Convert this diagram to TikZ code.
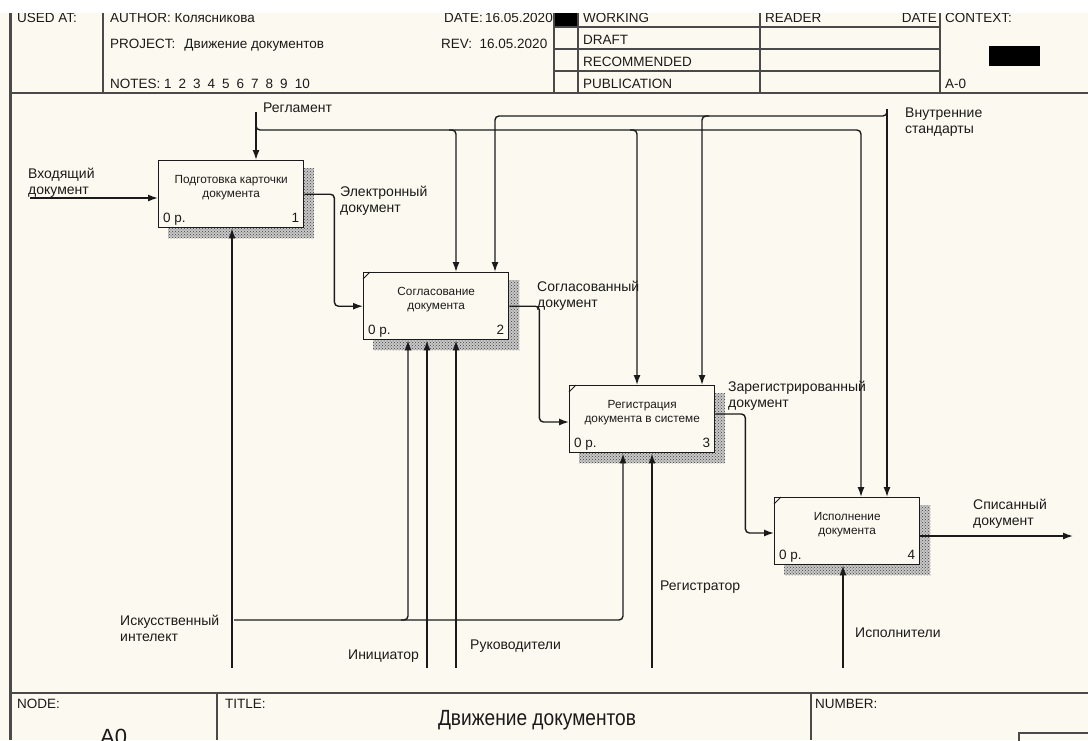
\documentclass[tikz,border=0pt]{standalone}
\usepackage{fontspec}
\setmainfont{Liberation Sans}
\newfontfamily\titlefont[FakeStretch=0.87]{Liberation Sans}
\usetikzlibrary{arrows.meta,patterns,calc,backgrounds}
\definecolor{bgc}{HTML}{FCFAF0}
\definecolor{ink}{HTML}{1A1A1A}
\definecolor{framec}{HTML}{4A4A4A}
\begin{document}
\begin{tikzpicture}[x=1pt,y=-1pt,
  lbl/.style={font=\fontsize{14}{16}\selectfont, text=ink, inner sep=0, align=left, anchor=north west},
  hdr/.style={font=\fontsize{13.5}{15}\selectfont, text=ink, inner sep=0, anchor=base west},
  proc/.style={draw=ink, line width=1.4pt, fill=bgc, minimum width=145pt, minimum height=67pt, anchor=north west, inner sep=0},
  boxtxt/.style={font=\fontsize{11.8}{14.5}\selectfont, text=ink, align=center, inner sep=0},
  cnr/.style={font=\fontsize{13.5}{15}\selectfont, text=ink, inner sep=0},
  arr/.style={draw=ink, line width=1.4pt, -{Latex[length=10pt,width=7pt]}},
  rc/.style={rounded corners=4pt},
  gridln/.style={draw=framec, line width=1.3pt},
  shdbase/.style={fill=black!22},
  shd/.style={pattern=crosshatch dots, pattern color=black!75}
]
\useasboundingbox (0,0) rectangle (1088,740);
\begin{scope}[on background layer]
  \fill[bgc] (0,0) rectangle (1088,740);
\end{scope}

% ---------------- header ----------------
\node[hdr] (usedat) at (17,22) {USED AT:};
\node[hdr] (author) at (110,22) {AUTHOR:\ Колясникова};
\node[hdr] (project) at (110,48) {PROJECT:\hspace{9pt}Движение документов};
\node[hdr] (notes) at (110,88) {NOTES:\ 1\hspace{7pt}2\hspace{7pt}3\hspace{7pt}4\hspace{7pt}5\hspace{7pt}6\hspace{7pt}7\hspace{7pt}8\hspace{7pt}9\hspace{7pt}10};
\begin{scope}
  \clip (430,12) rectangle (553,93);
  \node[hdr] (date) at (444,22) {DATE:\,16.05.2020};
  \node[hdr] (rev) at (441,48) {REV:\ \ 16.05.2020};
\end{scope}
\node[hdr] (working) at (583,22) {WORKING};
\node[hdr] (draft) at (583,44) {DRAFT};
\node[hdr] (recom) at (583,66) {RECOMMENDED};
\node[hdr] (publ) at (583,88) {PUBLICATION};
\node[hdr] (reader) at (765,22) {READER};
\node[hdr, anchor=base east] (rdate) at (937,22) {DATE};
\node[hdr] (context) at (945,22) {CONTEXT:};
\node[hdr] (azero) at (945,88) {A-0};
\fill[black] (554,12) rectangle (578,27);
\fill[black] (989,46) rectangle (1040,66);
\fill[white] (0,0) rectangle (1088,13);
\draw[gridln] (103,13) -- (103,93);
\draw[gridln] (554,13) -- (554,93);
\draw[gridln] (578,13) -- (578,93);
\draw[gridln] (760,13) -- (760,93);
\draw[gridln] (940,13) -- (940,93);
\draw[gridln] (554,27) -- (940,27);
\draw[gridln] (554,49) -- (940,49);
\draw[gridln] (554,71) -- (940,71);
\draw[gridln] (10,93) -- (1088,93);

% ---------------- footer ----------------
\draw[gridln] (10,693) -- (1088,693);
\draw[gridln] (217,693) -- (217,740);
\draw[gridln] (811,693) -- (811,740);
\node[hdr] (nodelbl) at (17,708) {NODE:};
\node[hdr] (titlelbl) at (225,708) {TITLE:};
\node[hdr] (numlbl) at (815,708) {NUMBER:};
\node[font=\titlefont\fontsize{22}{24}\selectfont, text=ink, anchor=base, inner sep=0] (title) at (537,725) {Движение документов};
\node[font=\fontsize{22}{24}\selectfont, text=ink, anchor=base west, inner sep=0] (anode) at (100,744) {A0};
\draw[gridln] (1019,745) -- (1019,733) -- (1095,733);
\draw[draw=framec, line width=3pt] (10,13) -- (10,740);

% ---------------- activity boxes ----------------
\node[proc] (b1) at (158,160) {};
\node[proc] (b2) at (363,272) {};
\node[proc] (b3) at (569,385) {};
\node[proc] (b4) at (774,497) {};
\begin{scope}[on background layer]
  \foreach \b in {b1,b2,b3,b4}{
    \fill[shdbase] ($(\b.north west)+(10,8)$) rectangle ($(\b.south east)+(10,10)$);
    \fill[shd] ($(\b.north west)+(10,8)$) rectangle ($(\b.south east)+(10,10)$);
  }
\end{scope}
\foreach \b in {b2,b3,b4}{
  \draw[ink, line width=1pt] ($(\b.north west)+(0,7)$) -- ($(\b.north west)+(7,0)$);
}
\node[boxtxt] (t1) at ($(b1.center)+(0,-6.5)$) {Подготовка карточки\\документа};
\node[boxtxt] (t2) at ($(b2.center)+(0,-6.5)$) {Согласование\\документа};
\node[boxtxt] (t3) at ($(b3.center)+(0,-6.5)$) {Регистрация\\документа в системе};
\node[boxtxt] (t4) at ($(b4.center)+(0,-6.5)$) {Исполнение\\документа};
\foreach \b/\n in {b1/1,b2/2,b3/3,b4/4}{
  \node[cnr, anchor=base west] (\b cost) at ($(\b.south west)+(5,-6)$) {0 р.};
  \node[cnr, anchor=base east] (\b num) at ($(\b.south east)+(-5,-6)$) {\n};
}

% ---------------- free ends ----------------
\coordinate (inp) at (30,198);
\coordinate (reg) at (256,112);
\coordinate (vs) at (887,109);
\coordinate (outp) at (1073,536);
\coordinate (m1) at (232,668);
\coordinate (ai) at (234,620);
\coordinate (ini) at (427,668);
\coordinate (ruk) at (456,668);
\coordinate (rgs) at (652,668);
\coordinate (isp) at (843,668);

% ---------------- connectors ----------------
\draw[arr] (inp) -- (inp -| b1.west);
\draw[arr] (reg) -- (reg |- b1.north);
\draw[arr, rc] ($(reg)+(0,12)$) |- (861,130) -- (861,130 |- b4.north);
\draw[arr, rc] (449,130) -| (456,130 |- b2.north);
\draw[arr, rc] (630,130) -| (637,130 |- b3.north);
\draw[arr] (vs) -- (vs |- b4.north);
\draw[arr, rc] ($(vs)+(0,1)$) |- (495,116) -- (495,116 |- b2.north);
\draw[arr, rc] (709,116) -| (702,116 |- b3.north);
\draw[arr, rc] (b1.east) -- ++(30,0) |- (b2.west);
\draw[arr, rc] (b2.east) -- ++(30,0) |- (b3.west |- 0,422);
\draw[arr, rc] (b3.east |- 0,414) -- ++(30,0) |- (b4.west |- 0,533);
\draw[arr] (b4.east |- 0,536) -- (outp);
\draw[arr] (m1) -- (m1 |- b1.south);
\draw[arr, rc] (ai) -| (623,620 |- b3.south);
\draw[arr, rc] (401,620) -| (408,620 |- b2.south);
\draw[arr] (ini) -- (ini |- b2.south);
\draw[arr] (ruk) -- (ruk |- b2.south);
\draw[arr] (rgs) -- (rgs |- b3.south);
\draw[arr] (isp) -- (isp |- b4.south);

% ---------------- labels ----------------
\node[lbl] (l-reg) at (263,103) {Регламент};
\node[lbl] (l-vs) at (905,108) {Внутренние\\стандарты};
\node[lbl] (l-inp) at (28,168) {Входящий\\документ};
\node[lbl] (l-o1) at (340,186) {Электронный\\документ};
\node[lbl] (l-o2) at (537,281) {Согласованный\\документ};
\node[lbl] (l-o3) at (728,381) {Зарегистрированный\\документ};
\node[lbl] (l-o4) at (973,499) {Списанный\\документ};
\node[lbl] (l-ai) at (120,615) {Искусственный\\интелект};
\node[lbl] (l-ini) at (348,650) {Инициатор};
\node[lbl] (l-ruk) at (470,640) {Руководители};
\node[lbl] (l-rgs) at (660,581) {Регистратор};
\node[lbl] (l-isp) at (855,628) {Исполнители};
\end{tikzpicture}
\end{document}
